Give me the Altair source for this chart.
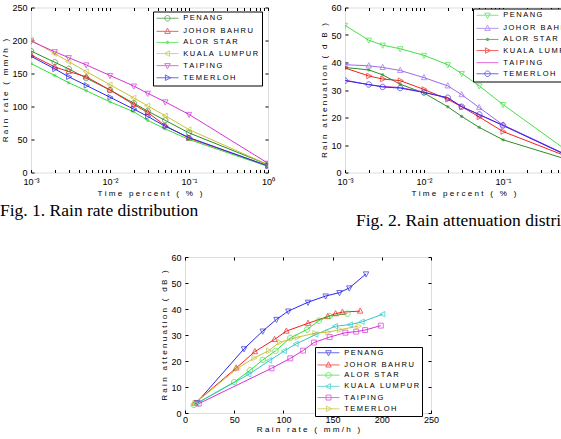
import altair as alt
import pandas as pd

# ---- data -------------------------------------------------------------
STATIONS = ["PENANG", "JOHOR BAHRU", "ALOR STAR", "KUALA LUMPUR", "TAIPING", "TEMERLOH"]
TIME_PCT = [0.001, 0.002, 0.003, 0.005, 0.01, 0.02, 0.03, 0.05, 0.1, 1.0]

# rain rate (mm/h) exceeded for each time percentage
RATE_PENANG = [184, 167, 157, 143, 125, 105, 93, 79, 60, 12]
RATE_JOHOR = [178, 160, 153, 145, 125, 103, 91, 71, 52, 10]
RATE_ALOR = [165, 147, 136, 124, 107, 92, 79, 66, 50, 9]
RATE_KL = [201, 180, 168, 153, 133, 113, 101, 86, 65, 12]
RATE_TAIPING = [199, 183, 174, 163, 147, 131, 120, 107, 88, 14]
RATE_TEMERLOH = [176, 157, 145, 132, 114, 96, 85, 70, 53, 10]

# rain attenuation (dB) exceeded for each time percentage
ATT_PENANG = [53.5, 48.1, 46.3, 45.0, 42.6, 39.2, 36.0, 31.5, 24.7, 4.0]
ATT_JOHOR = [39.2, 38.8, 38.2, 37.1, 34.5, 31.5, 28.3, 23.6, 17.3, 3.8]
ATT_ALOR = [38.2, 37.3, 35.5, 32.1, 28.9, 23.9, 20.4, 16.4, 11.9, 3.1]
ATT_KL = [38.0, 35.1, 34.0, 33.4, 30.2, 26.6, 23.9, 20.2, 14.9, 3.7]
ATT_TAIPING = [33.6, 31.9, 31.3, 30.9, 29.2, 27.1, 24.0, 21.0, 17.2, 3.6]
ATT_TEMERLOH = [33.4, 32.0, 31.1, 30.7, 29.1, 27.2, 23.9, 21.1, 17.1, 3.7]

RATES = [RATE_PENANG, RATE_JOHOR, RATE_ALOR, RATE_KL, RATE_TAIPING, RATE_TEMERLOH]
ATTS = [ATT_PENANG, ATT_JOHOR, ATT_ALOR, ATT_KL, ATT_TAIPING, ATT_TEMERLOH]

# separate keys for the plotted markers, so their scale stays apart from
# the legend's line-plus-marker symbols
MARKERS = [s + "*" for s in STATIONS]

rows = []
for name, key, rates, atts in zip(STATIONS, MARKERS, RATES, ATTS):
    for t, r, a in zip(TIME_PCT, rates, atts):
        rows.append({"station": name, "marker": key, "time": t, "rate": r, "att": a})
df = pd.DataFrame(rows)

# ---- styling helpers -----------------------------------------------------
FONT = "Liberation Sans"
SERIF = "Liberation Serif"
THIN = "\u2009"  # thin space between legend letters
NB = "\u00a0"    # letter gap in axis titles


def spaced(text, gap=NB):
    return gap.join(text)


SPACED_LABEL = "join(split(datum.label, ''), '" + THIN + "')"

# marker outlines in unit coordinates
CIRCLE = "M1,0A1,1,0,1,1,-1,0A1,1,0,1,1,1,0Z"
TRI_UP = "M0,-1.15L1,0.75L-1,0.75Z"
TRI_DOWN = "M0,1.15L1,-0.75L-1,-0.75Z"
TRI_LEFT = "M-1.15,0L0.75,-1L0.75,1Z"
TRI_RIGHT = "M1.15,0L-0.75,-1L-0.75,1Z"
SQUARE = "M-0.9,-0.9H0.9V0.9H-0.9Z"
DOT = "M-0.45,-0.45L0.45,0.45M-0.45,0.45L0.45,-0.45M-0.6,0H0.6M0,-0.6V0.6"
NONE = "M0,0"
LEGEND_LINE = "M-4,0H4"

LOG_MAJOR = [0.001, 0.01, 0.1, 1.0]
LOG_TICKS = [k * 10.0 ** e for e in (-3, -2, -1) for k in range(1, 10)] + [1.0]
LOG_LABEL = ("'10' + (datum.value < 0.0015 ? '\u207b\u00b3' : datum.value < 0.015 ? "
             "'\u207b\u00b2' : datum.value < 0.15 ? '\u207b\u00b9' : '\u2070')")


def panel(x_field, y_field, x_scale, y_scale, x_title, y_title, x_major, x_ticks,
          x_label_expr, y_values, colors, shapes, legend_xy, W, H, caption=None,
          cap_offset=0, cap_dx=0, label_pad_x=5, title_pad_x=3, row_pad=2.1,
          legend_pad=3):
    base = alt.Chart(df)
    lx, ly = legend_xy
    legend = alt.Legend(labelFont=FONT, labelFontSize=7.5, labelExpr=SPACED_LABEL,
                        labelColor="black", labelOffset=12, rowPadding=row_pad,
                        padding=legend_pad, title=None, orient="none", legendX=lx,
                        legendY=ly, symbolSize=30, symbolStrokeWidth=1,
                        symbolOffset=7.75, symbolFillColor="transparent",
                        strokeColor="black", fillColor="white")

    x_axis = alt.Axis(orient="bottom", values=x_major, labelExpr=x_label_expr,
                      ticks=False, domain=False, grid=False, labelFlush=False,
                      labelFont=FONT, labelFontSize=9, labelColor="black",
                      labelPadding=label_pad_x, title=spaced(x_title), titleFont=FONT,
                      titleFontSize=8.1, titleFontWeight="normal", titleColor="black",
                      titlePadding=title_pad_x)
    y_axis = alt.Axis(orient="left", values=y_values, ticks=False, domain=False,
                      grid=False, labelFont=FONT, labelFontSize=9, labelColor="black",
                      labelPadding=4, title=spaced(y_title), titleFont=FONT,
                      titleFontSize=8.1, titleFontWeight="normal", titleColor="black",
                      titlePadding=2)

    x_plain = alt.X(x_field, type="quantitative", scale=x_scale, axis=None)
    y_plain = alt.Y(y_field, type="quantitative", scale=y_scale, axis=None)

    lines = base.mark_line(strokeWidth=1, clip=True).encode(
        x=alt.X(x_field, type="quantitative", scale=x_scale, axis=x_axis),
        y=alt.Y(y_field, type="quantitative", scale=y_scale, axis=y_axis),
        color=alt.Color("station:N", scale=alt.Scale(domain=STATIONS, range=colors),
                        legend=None),
    )
    points = base.mark_point(filled=False, size=30, strokeWidth=1, clip=True).encode(
        x=x_plain, y=y_plain,
        stroke=alt.Stroke("marker:N", scale=alt.Scale(domain=MARKERS, range=colors),
                          legend=None),
        shape=alt.Shape("marker:N", scale=alt.Scale(domain=MARKERS, range=shapes),
                        legend=None),
    )
    # legend only: no rows reach the plot, the scale domain lists every station
    key = base.transform_filter("false").mark_point(filled=False, size=30,
                                                    strokeWidth=1).encode(
        x=x_plain, y=y_plain,
        stroke=alt.Stroke("station:N", scale=alt.Scale(domain=STATIONS, range=colors),
                          legend=legend),
        shape=alt.Shape("station:N",
                        scale=alt.Scale(domain=STATIONS,
                                        range=[LEGEND_LINE + s for s in shapes]),
                        legend=legend),
    )

    def tick_layer(x_orient, y_orient):
        tick_style = dict(labels=False, domain=False, grid=False, ticks=True, tickSize=3,
                          tickColor="black", tickWidth=1, title=None)
        return base.mark_point(opacity=0).encode(
            x=alt.X(x_field, type="quantitative", scale=x_scale,
                    axis=alt.Axis(orient=x_orient, offset=-H, values=x_ticks, **tick_style)),
            y=alt.Y(y_field, type="quantitative", scale=y_scale,
                    axis=alt.Axis(orient=y_orient, offset=-W, values=y_values, **tick_style)),
        )

    layered = alt.layer(lines, points, key, tick_layer("top", "right"),
                        tick_layer("bottom", "left")).resolve_axis(
        x="independent", y="independent").resolve_scale(stroke="independent",
                                                         shape="independent")
    props = dict(width=W, height=H)
    if caption:
        props["title"] = alt.TitleParams(text=caption, orient="bottom", anchor="start",
                                         frame="group", dx=cap_dx, offset=cap_offset,
                                         font=SERIF, fontSize=17.5, fontWeight="normal",
                                         color="black")
    return layered.properties(**props)


log_x = alt.Scale(type="log", domain=[0.001, 1.0], nice=False)

c1 = panel("time", "rate", log_x, alt.Scale(domain=[0, 250], nice=False),
           "Time percent ( % )", "Rain rate ( mm/h )", LOG_MAJOR, LOG_TICKS, LOG_LABEL,
           [0, 50, 100, 150, 200, 250],
           ["#2b8c2b", "#ee2222", "#33dd33", "#c8c23a", "#d633d6", "#2a2ae8"],
           [CIRCLE, TRI_UP, DOT, TRI_LEFT, TRI_DOWN, TRI_RIGHT],
           (122, 4), 237, 165, caption="Fig. 1. Rain rate distribution",
           cap_offset=4, cap_dx=-31)

c2 = panel("time", "att", log_x, alt.Scale(domain=[0, 60], nice=False),
           "Time percent ( % )", "Rain attenuation ( d B )", LOG_MAJOR, LOG_TICKS,
           LOG_LABEL, [0, 10, 20, 30, 40, 50, 60],
           ["#44e044", "#9b6be8", "#2b8c2b", "#ee2222", "#d633d6", "#2a2ae8"],
           [TRI_DOWN, TRI_UP, DOT, TRI_RIGHT, NONE, CIRCLE],
           (128, 1), 237, 165, caption="Fig. 2. Rain attenuation distribution",
           cap_offset=14, cap_dx=11)

c3 = panel("rate", "att", alt.Scale(domain=[0, 250], nice=False),
           alt.Scale(domain=[0, 60], nice=False),
           "Rain rate ( mm/h )", "Rain attenuation ( dB )", [0, 50, 100, 150, 200, 250],
           [0, 50, 100, 150, 200, 250], "datum.label", [0, 10, 20, 30, 40, 50, 60],
           ["#2a2ae8", "#ee2222", "#33dd33", "#33c8c8", "#d633d6", "#c8c23a"],
           [TRI_DOWN, TRI_UP, CIRCLE, TRI_LEFT, SQUARE, TRI_RIGHT],
           (130, 90), 246, 156, label_pad_x=2, title_pad_x=1, row_pad=1.2,
           legend_pad=2)

# empty cell that pushes the third figure to the right
spacer = alt.Chart(pd.DataFrame({"v": [0]})).mark_point(opacity=0).encode(
    x=alt.X("v:Q", axis=None), y=alt.Y("v:Q", axis=None)
).properties(width=154, height=10, view=alt.ViewBackground(stroke="transparent"))

INDEP = dict(color="independent", stroke="independent", shape="independent")

top = alt.hconcat(c1, c2, spacing=77, bounds="flush").resolve_scale(**INDEP)
bottom = alt.hconcat(spacer, c3, spacing=0, bounds="flush").resolve_scale(**INDEP)
chart = alt.vconcat(top, bottom, spacing=21.5).resolve_scale(**INDEP).properties(
    autosize=alt.AutoSizeParams(type="none"),
    padding={"left": 31, "top": 7.5, "right": 530, "bottom": 431.5},
).configure_view(stroke="black", strokeWidth=1).configure(background="white")

chart.save("out.html", embed_options={"renderer": "svg", "actions": False})
